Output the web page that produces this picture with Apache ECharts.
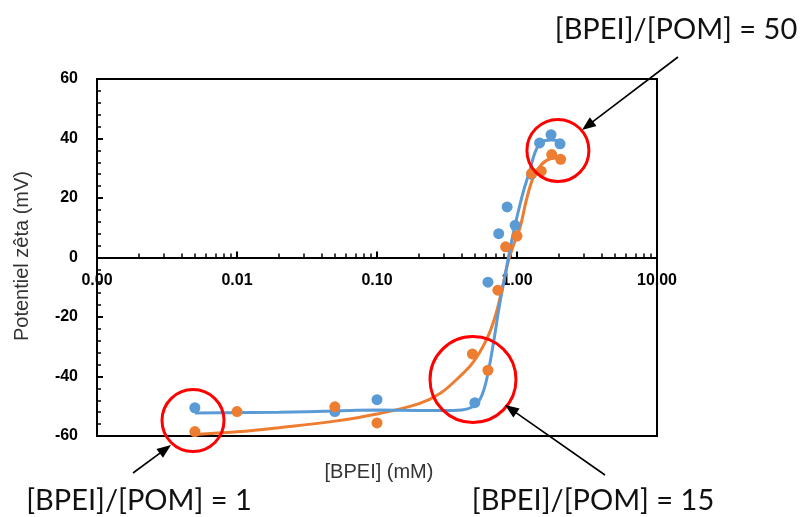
<!DOCTYPE html>
<html><head><meta charset="utf-8">
<script src="https://cdn.jsdelivr.net/npm/echarts@6/dist/echarts.min.js"></script>
<style>html,body{margin:0;padding:0;background:#fff}#c{width:804px;height:517px}</style>
</head><body><div id="c"></div>
<script>
// ---- data (x: [BPEI] mM, y: zeta potential mV) ----
const bluePointsX = [0.005, 0.05, 0.1, 0.5, 0.62, 0.74, 0.85, 0.97, 1.27, 1.45, 1.75, 2.03];
const bluePointsY = [-50.5, -51.8, -47.8, -48.8, -8.3, 8.0, 17.0, 10.8, 28.0, 38.5, 41.3, 38.2];
const orangePointsX = [0.005, 0.01, 0.05, 0.1, 0.48, 0.62, 0.73, 0.83, 1.0, 1.27, 1.49, 1.77, 2.05];
const orangePointsY = [-58.5, -51.8, -50.2, -55.6, -32.4, -37.9, -11.0, 3.6, 7.2, 28.2, 29.0, 34.6, 33.0];
const blueFitX = [0.005, 0.02, 0.05, 0.1, 0.2, 0.35, 0.45, 0.52, 0.57, 0.62, 0.68, 0.75, 0.82, 0.89, 0.97, 1.1, 1.24, 1.35, 1.5, 1.75, 2.05];
const blueFitY = [-52.3, -52.0, -51.6, -51.3, -51.4, -51.4, -50.8, -49.0, -45.5, -39.0, -28.5, -16.0, -6.3, 2.7, 11.0, 21.5, 29.5, 35.5, 38.8, 39.5, 39.2];
const orangeFitX = [0.005, 0.01, 0.02, 0.05, 0.1, 0.2, 0.28, 0.37, 0.49, 0.61, 0.7, 0.78, 0.87, 0.95, 1.05, 1.17, 1.31, 1.5, 1.75, 2.05];
const orangeFitY = [-59.5, -58.6, -57.2, -55.0, -52.6, -49.1, -45.8, -41.0, -35.0, -27.3, -19.7, -10.8, -1.0, 4.5, 10.0, 19.5, 27.0, 31.3, 33.3, 33.6];
const xTickValues = [0.001, 0.01, 0.1, 1, 10];
const xMinorTickValues = [];
for (let d = 0; d < 4; d++) { for (let m = 2; m <= 9; m++) { xMinorTickValues.push(+(m * xTickValues[d]).toPrecision(3)); } }
const yTicks = [-60, -40, -20, 0, 20, 40, 60];
// annotation anchors in data space: [x, y]
const circleCenters = [[1.96, 36], [0.00485, -54.8], [0.485, -41]];
const annotationTexts = ['[BPEI]/[POM] = 50', '[BPEI]/[POM] = 1', '[BPEI]/[POM] = 15'];

const zip = (xs, ys) => xs.map((x, i) => [x, ys[i]]);
const BLUE = '#5B9BD5', ORANGE = '#ED7D31';
const GRID = { left: 97, top: 79, right: 147, bottom: 81 };
const plotH = 517 - GRID.top - GRID.bottom;
const zeroOffset = -plotH * (0 - yTicks[0]) / (yTicks[yTicks.length - 1] - yTicks[0]);

const chart = echarts.init(document.getElementById('c'));
const labelFont = { fontFamily: 'Liberation Sans', fontWeight: 'bold', fontSize: 16, color: '#000' };
chart.setOption({
  animation: false,
  backgroundColor: '#fff',
  grid: Object.assign({ show: true, borderColor: '#000', borderWidth: 2, backgroundColor: 'transparent' }, GRID),
  xAxis: [{
    type: 'log', logBase: 10, min: xTickValues[0], max: xTickValues[xTickValues.length - 1], position: 'bottom', offset: zeroOffset,
    axisLine: { show: true, onZero: false, lineStyle: { color: '#000', width: 2 } },
    axisTick: { show: true, inside: true, length: 6, lineStyle: { color: '#000', width: 2 } },
    axisLabel: Object.assign({ margin: 15, formatter: v => (+v).toFixed(2) }, labelFont),
    splitLine: { show: false }
  }, {
    type: 'log', logBase: 10, min: xTickValues[0], max: xTickValues[xTickValues.length - 1], position: 'bottom', offset: zeroOffset,
    axisLine: { show: false, onZero: false },
    axisTick: { show: true, inside: true, length: 4, customValues: xMinorTickValues, lineStyle: { color: '#000', width: 1.5 } },
    axisLabel: { show: false },
    splitLine: { show: false }
  }],
  yAxis: {
    type: 'value', min: yTicks[0], max: yTicks[yTicks.length - 1], interval: 20,
    axisLine: { show: true, onZero: false, lineStyle: { color: '#000', width: 2 } },
    axisTick: { show: true, inside: true, length: 6, lineStyle: { color: '#000', width: 2 } },
    minorTick: { show: true, splitNumber: 5, length: 4, lineStyle: { color: '#000', width: 1.5 } },
    splitLine: { show: false },
    axisLabel: Object.assign({ margin: 19 }, labelFont)
  },
  series: [
    { type: 'line', data: zip(orangeFitX, orangeFitY), showSymbol: false, smooth: 0.4, lineStyle: { color: ORANGE, width: 3 }, z: 2 },
    { type: 'line', data: zip(blueFitX, blueFitY), showSymbol: false, smooth: 0.4, lineStyle: { color: BLUE, width: 3 }, z: 3 },
    { type: 'scatter', data: zip(bluePointsX, bluePointsY), symbolSize: 11, itemStyle: { color: BLUE, opacity: 1 }, z: 4 },
    { type: 'scatter', data: zip(orangePointsX, orangePointsY), symbolSize: 11, itemStyle: { color: ORANGE, opacity: 1 }, z: 5 }
  ]
});

// annotations
const radii = [31, 31, 43];
const graphics = [];
circleCenters.forEach((c, i) => {
  const p = chart.convertToPixel({ gridIndex: 0 }, c);
  graphics.push({ type: 'circle', shape: { cx: p[0], cy: p[1], r: radii[i] }, style: { fill: 'none', stroke: '#FF0000', lineWidth: 3 }, z: 100 });
});
function arrow(tail, head) {
  const dx = head[0] - tail[0], dy = head[1] - tail[1];
  const len = Math.hypot(dx, dy), ux = dx / len, uy = dy / len;
  const hl = 14, hw = 5.5;
  const bx = head[0] - ux * hl, by = head[1] - uy * hl;
  graphics.push({ type: 'line', shape: { x1: tail[0], y1: tail[1], x2: bx + ux * 2, y2: by + uy * 2 }, style: { stroke: '#000', lineWidth: 1.6 }, z: 100 });
  graphics.push({ type: 'polygon', shape: { points: [[head[0], head[1]], [bx - uy * hw, by + ux * hw], [bx + uy * hw, by - ux * hw]] }, style: { fill: '#000' }, z: 100 });
}
arrow([678, 57], [582, 130]);
arrow([133, 473], [171, 445]);
arrow([605, 475], [505, 405]);
const annFont = { fontFamily: 'Lato', fontSize: 29, fill: '#111', align: 'center', verticalAlign: 'middle' };
[[676, 30], [139, 501], [593, 501]].forEach((p, i) => {
  graphics.push({ type: 'text', x: p[0], y: p[1], style: Object.assign({ text: annotationTexts[i] }, annFont), z: 100 });
});
graphics.push({ type: 'text', x: 22, y: 256, rotation: Math.PI / 2, style: { text: 'Potentiel zêta (mV)', fontFamily: 'Liberation Sans', fontSize: 20, fill: '#333', align: 'center', verticalAlign: 'middle' } });
graphics.push({ type: 'text', x: 379, y: 472, style: { text: '[BPEI] (mM)', fontFamily: 'Liberation Sans', fontSize: 20, fill: '#333', align: 'center', verticalAlign: 'middle' } });
chart.setOption({ graphic: graphics });
</script></body></html>
